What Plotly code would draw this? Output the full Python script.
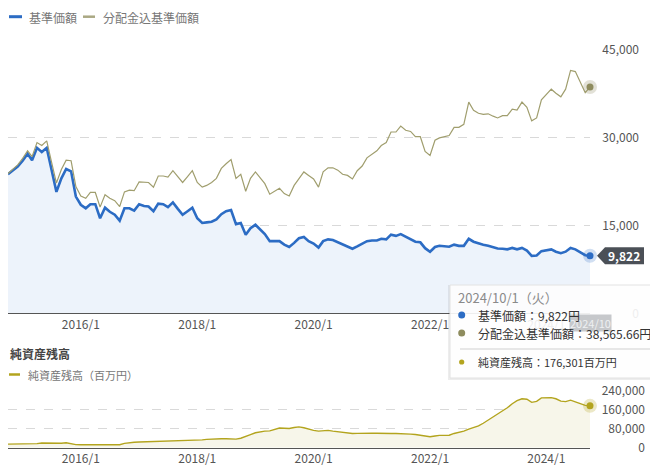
import pandas as pd
import plotly.graph_objects as go

# the page body keeps its default 8px margin, so the figure is 8px smaller
# and every pixel position below is measured in window pixels
OFF = 8
W, H = 658 - OFF, 475 - OFF
FONT = "Noto Sans CJK JP"

# monthly, 2014/10 .. 2024/10
START_MONTH = "2014-10-01"
N_MONTHS = 121

NAV_NAME = "基準価額"
ADJ_NAME = "分配金込基準価額"
ASSET_NAME = "純資産残高"
ASSET_LEGEND = "純資産残高（百万円）"

nav = [
    23700, 24300, 25000, 26000, 27200, 26100, 28200, 27500, 28200, 24500,
    20700, 23000, 24600, 24200, 19900, 18500, 17900, 18600, 18600, 16200,
    18000, 17300, 16800, 15800, 17900, 17900, 17500, 18600, 18300, 18200,
    17400, 18700, 18600, 18100, 18900, 17800, 16800, 17400, 18000, 16200,
    15400, 15500, 15600, 16000, 16900, 17400, 17600, 15200, 15400, 13400,
    14500, 15100, 14300, 13500, 12300, 12300, 12300, 11700, 11300, 12000,
    12800, 13000, 12300, 11900, 11200, 12300, 12600, 12500, 12100, 11700,
    11300, 11000, 11400, 11800, 12300, 12400, 12400, 12700, 12600, 13400,
    13200, 13500, 13100, 12700, 12200, 12100, 11100, 10500, 11300, 11500,
    11400, 11350, 11700, 11500, 11500, 12700, 12200, 11900, 11700, 11500,
    11200, 11050, 11000, 10900, 11150, 10900, 11150, 10700, 9800, 9850,
    10600, 10800, 10900, 10500, 10250, 10500, 11150, 10900, 10400, 9900,
    9822,
]

nav_adj = [
    23800, 24500, 25300, 26400, 27700, 26700, 29100, 28600, 29400, 25800,
    22200, 24500, 26100, 26000, 21600, 20000, 19600, 20600, 20600, 18100,
    20200, 19600, 19200, 18200, 20700, 21000, 20900, 22400, 22300, 22300,
    21500, 23400, 23400, 23200, 24300, 23200, 22300, 23300, 24300, 22300,
    21500, 21800, 22300, 23000, 24700, 25500, 26200, 23000, 23700, 20800,
    23000, 24100, 23000, 22100, 20300, 20800, 21300, 20400, 20000, 21800,
    23000, 24100, 23500, 22900, 21500, 24100, 24800, 24800, 24400, 23700,
    23500, 22900, 24300, 25100, 26500, 27100, 27700, 28600, 29100, 30900,
    30900, 31900, 31200, 31000, 30100, 30100, 27600, 26900, 29500, 29900,
    30100, 30300, 31700, 31700, 32200, 36000, 34600, 34100, 33900, 34000,
    33600, 33300, 33700, 33700, 34800, 34650, 36000, 35100, 32800, 33300,
    36400, 37400, 38200, 37500, 36900, 38200, 41400, 41200, 39500, 37600,
    38565.66,
]

net_assets = [
    15000, 15000, 14500, 14000, 14000, 14500, 17000, 20000, 19000, 18000,
    18000, 19000, 21000, 17000, 13000, 12500, 12500, 13500, 14000, 14000,
    13500, 13000, 12500, 12500, 18000, 22000, 23000, 24000, 24500, 25000,
    25500, 26000, 26500, 27000, 27500, 28000, 31000, 32000, 32000, 32500,
    33000, 35000, 37000, 39000, 38000, 37500, 37000, 36000, 40000, 46000,
    55000, 63000, 67000, 70000, 71000, 77000, 83000, 82000, 81000, 85000,
    87500, 84000, 77000, 73000, 70000, 71000, 73000, 70000, 67000, 64000,
    62000, 60000, 60500, 61500, 62000, 61500, 61000, 60000, 60000, 60000,
    60000, 60000, 58500, 57000, 55500, 53000, 50000, 46000, 49000, 52000,
    52000, 52500, 60000, 65000, 69500, 78000, 85000, 92000, 103000, 116000,
    130000, 143000, 155000, 168000, 185000, 198000, 206000, 204000, 191000, 195000,
    210000, 211000, 211000, 206000, 196000, 194000, 200000, 193000, 184000, 178000,
    176301,
]

x_tick_dates = ["2016-01-01", "2018-01-01", "2020-01-01", "2022-01-01", "2024-01-01"]
x_tick_labels = ["2016/1", "2018/1", "2020/1", "2022/1", "2024/1"]
y_ticks_main = [0, 15000, 30000, 45000]
y_ticks_assets = [0, 80000, 160000, 240000]
hover_date_label = "2024/10/1（火）"
hover_axis_label = "2024/10"

dates = pd.date_range(START_MONTH, periods=N_MONTHS, freq="MS")

BLUE = "#2c6cc4"
OLIVE = "#a09e6e"
GOLD = "#b3a41e"


def px(x):
    return (x - OFF) / W


def py(y):
    return 1 - (y - OFF) / H


def label(x, y, text, size=12, color="#333", xanchor="left", xref="paper", yref="paper", **kw):
    return dict(x=x, y=y, xref=xref, yref=yref, text=text, xanchor=xanchor,
                yanchor="middle", showarrow=False,
                font=dict(family=FONT, size=size, color=color), **kw)


fig = go.Figure()

fig.add_trace(go.Scatter(x=dates, y=nav, mode="lines", name=NAV_NAME,
                         line=dict(color=BLUE, width=2.6), fill="tozeroy",
                         fillcolor="#edf3fb", xaxis="x", yaxis="y"))
fig.add_trace(go.Scatter(x=dates, y=nav_adj, mode="lines", name=ADJ_NAME,
                         line=dict(color=OLIVE, width=1.2), xaxis="x", yaxis="y"))
fig.add_trace(go.Scatter(x=dates, y=net_assets, mode="lines", name=ASSET_NAME,
                         line=dict(color=GOLD, width=1.4), fill="tozeroy",
                         fillcolor="#f7f6ea", xaxis="x2", yaxis="y2"))

# hovered points (last month)
for yv, col, halo, ax in [(nav_adj[-1], "#8e8c5e", "rgba(150,148,110,0.28)", "y"),
                          (nav[-1], BLUE, "rgba(44,108,196,0.22)", "y"),
                          (net_assets[-1], GOLD, "rgba(179,164,30,0.25)", "y2")]:
    xa = "x" if ax == "y" else "x2"
    fig.add_trace(go.Scatter(x=[dates[-1]], y=[yv], mode="markers",
                             marker=dict(size=14, color=halo), xaxis=xa, yaxis=ax,
                             cliponaxis=False, hoverinfo="skip"))
    fig.add_trace(go.Scatter(x=[dates[-1]], y=[yv], mode="markers",
                             marker=dict(size=7, color=col), xaxis=xa, yaxis=ax,
                             cliponaxis=False, hoverinfo="skip"))

x_dom = [px(8), px(590)]
x_range = [dates[0], dates[-1]]
tickfont = dict(family=FONT, size=12, color="#555")
grid = dict(showgrid=True, gridcolor="#d9d9d9", griddash="dash", gridwidth=1)

xcommon = dict(domain=x_dom, range=x_range, tickvals=x_tick_dates,
               ticktext=x_tick_labels, showgrid=False, showline=True,
               linecolor="#555", linewidth=1, ticks="", tickfont=tickfont,
               zeroline=False, automargin=False)
ycommon = dict(anchor="free", side="left", tickformat=",", ticks="",
               tickfont=tickfont, zeroline=False, showline=False,
               automargin=False, **grid)

fig.update_layout(
    width=W, height=H, autosize=False,
    margin=dict(l=0, r=0, t=0, b=0, pad=0),
    paper_bgcolor="white", plot_bgcolor="rgba(0,0,0,0)",
    showlegend=False,
    font=dict(family=FONT),
    xaxis=dict(anchor="y", **xcommon),
    yaxis=dict(domain=[py(313.3), py(49.3)], range=[0, 45000], position=px(639),
               tickvals=y_ticks_main, **ycommon),
    xaxis2=dict(anchor="y2", **xcommon),
    yaxis2=dict(domain=[py(447.7), py(390.7)], range=[0, 240000], position=px(645),
                tickvals=y_ticks_assets, **ycommon),
)

shapes = []
ann = []

# reference line at the latest NAV
shapes.append(dict(type="line", xref="x", yref="y", x0=dates[0], x1=dates[-1],
                   y0=nav[-1], y1=nav[-1], line=dict(color="#8396c4", width=1),
                   layer="below"))

# value tag for latest NAV
shapes.append(dict(type="path", xref="paper", yref="y", xsizemode="pixel",
                   ysizemode="pixel", xanchor=px(597), yanchor=nav[-1],
                   path="M0,0 L8,8.5 L47,8.5 L47,-8.5 L8,-8.5 Z",
                   fillcolor="#4b5057", line=dict(width=0), layer="above"))
ann.append(label(px(624), nav[-1], f"<b>{nav[-1]:,}</b>", color="white",
                 xanchor="center", yref="y"))

# top legend
shapes.append(dict(type="line", xref="paper", yref="paper", x0=px(9), x1=px(22),
                   y0=py(16.7), y1=py(16.7), line=dict(color=BLUE, width=3)))
shapes.append(dict(type="line", xref="paper", yref="paper", x0=px(83), x1=px(95),
                   y0=py(16.7), y1=py(16.7), line=dict(color="#aaa883", width=2.5)))
ann.append(label(px(27), py(17), NAV_NAME, color="#777"))
ann.append(label(px(100.5), py(17), ADJ_NAME, color="#777"))

# lower panel title + legend
ann.append(label(px(8), py(353.5), f"<b>{ASSET_NAME}</b>", color="#444"))
shapes.append(dict(type="line", xref="paper", yref="paper", x0=px(9), x1=px(20),
                   y0=py(374.5), y1=py(374.5), line=dict(color=GOLD, width=2.5)))
ann.append(label(px(26), py(374.5), ASSET_LEGEND, size=11, color="#777"))

# crosshair x label (seen through the tooltip)
ann.append(label(dates[-1], py(322.5), hover_axis_label, size=11, color="#eef0f2",
                 xanchor="center", xref="x", bgcolor="#c6c8cb", borderpad=0))

# tooltip box
shapes.append(dict(type="rect", xref="paper", yref="paper", x0=px(448), x1=px(658),
                   y0=py(380), y1=py(285), fillcolor="rgba(0,0,0,0.07)",
                   line=dict(width=0), layer="above"))
shapes.append(dict(type="rect", xref="paper", yref="paper", x0=px(450), x1=px(657),
                   y0=py(378), y1=py(285), fillcolor="rgba(255,255,255,0.9)",
                   line=dict(color="#e2e2e2", width=1), layer="above"))
shapes.append(dict(type="line", xref="paper", yref="paper", x0=px(460), x1=px(651),
                   y0=py(349), y1=py(349), line=dict(color="#d0d0d0", width=1),
                   layer="above"))
for cy, col, r in [(315, BLUE, 3.5), (333, "#8e8c5e", 3.5), (362, GOLD, 2.6)]:
    shapes.append(dict(type="circle", xref="paper", yref="paper",
                       x0=px(461.7 - r), x1=px(461.7 + r), y0=py(cy + r), y1=py(cy - r),
                       fillcolor=col, line=dict(width=0), layer="above"))

ann.append(label(px(456), py(297), hover_date_label, size=13, color="#8a8a8a"))
ann.append(label(px(475.5), py(315), f"{NAV_NAME}：{nav[-1]:,}円"))
ann.append(label(px(475.5), py(333.5), f"{ADJ_NAME}：{nav_adj[-1]:,.2f}円"))
ann.append(label(px(475.5), py(362), f"{ASSET_NAME}：{net_assets[-1]:,}百万円", size=11))

fig.update_layout(shapes=shapes, annotations=ann)

fig.write_html("out.html")
